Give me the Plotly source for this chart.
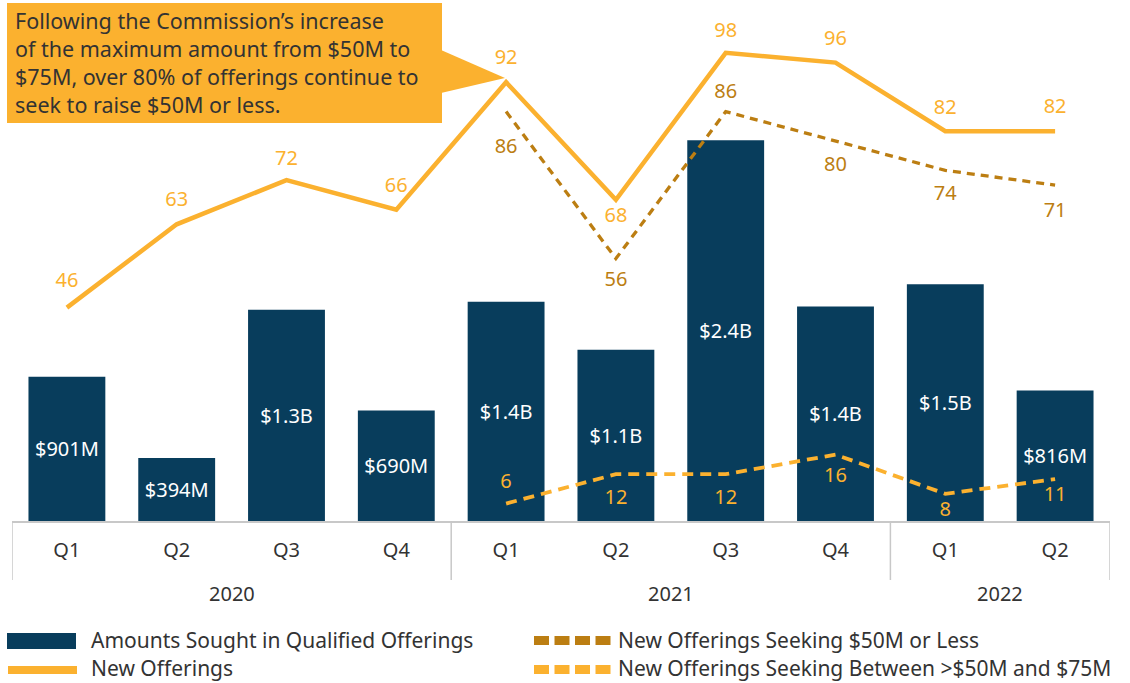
import plotly.graph_objects as go

years = ["2020"] * 4 + ["2021"] * 4 + ["2022"] * 2
quarters = ["Q1", "Q2", "Q3", "Q4", "Q1", "Q2", "Q3", "Q4", "Q1", "Q2"]

amounts_m = [901, 394, 1320, 690, 1370, 1070, 2380, 1340, 1480, 816]
amount_labels = ["$901M", "$394M", "$1.3B", "$690M", "$1.4B", "$1.1B",
                 "$2.4B", "$1.4B", "$1.5B", "$816M"]

new_offerings = [46, 63, 72, 66, 92, 68, 98, 96, 82, 82]
seek_50_or_less = [None, None, None, None, 86, 56, 86, 80, 74, 71]
seek_50_to_75 = [None, None, None, None, 6, 12, 12, 16, 8, 11]

series_names = ["Amounts Sought in Qualified Offerings", "New Offerings",
                "New Offerings Seeking $50M or Less",
                "New Offerings Seeking Between >$50M and $75M"]

NAVY = "#083D5C"
ORANGE = "#FBB12F"
GOLD = "#BC7E12"
TEXT = "#333333"
GRID = "#C8C8C8"
FONT = "Noto Sans"

cats = [f"{y} {q}" for y, q in zip(years, quarters)]

# label placement (style): which labels sit below their point, and the
# invisible-marker size that sets each label's distance from the line
new_below, new_pad = {5}, [24, 20, 14, 18, 20, 10, 16, 18, 18, 20]
le50_below, le50_pad = {4, 5, 7, 8, 9}, [0, 0, 0, 0, 40, 18, 12, 22, 22, 26]
mid_below, mid_pad = {5, 6, 7, 8, 9}, [0, 0, 0, 0, 16, 22, 22, 18, 10, 10]

fig = go.Figure()

fig.add_trace(go.Bar(
    x=cats, y=amounts_m, name=series_names[0],
    marker=dict(color=NAVY, line=dict(width=0)),
    width=0.7,
    text=amount_labels, textposition="inside", insidetextanchor="middle",
    textfont=dict(color="white", size=20, family=FONT),
    textangle=0, constraintext="none",
    yaxis="y",
))

def pos(vals, below):
    return ["bottom center" if i in below else "top center" for i in range(len(vals))]

def labels(vals):
    return [None if v is None else str(v) for v in vals]

def ghost(sizes):
    return dict(size=sizes, color="rgba(0,0,0,0)", opacity=0,
                line=dict(width=0, color="rgba(0,0,0,0)"))

fig.add_trace(go.Scatter(
    x=cats, y=seek_50_or_less, name=series_names[2],
    mode="lines+markers+text",
    line=dict(color=GOLD, width=3.3, dash="8px,6px"),
    marker=ghost(le50_pad),
    text=labels(seek_50_or_less), textposition=pos(seek_50_or_less, le50_below),
    textfont=dict(color=GOLD, size=20, family=FONT),
    yaxis="y2", cliponaxis=False,
))

fig.add_trace(go.Scatter(
    x=cats, y=new_offerings, name=series_names[1],
    mode="lines+markers+text",
    line=dict(color=ORANGE, width=4.5),
    marker=ghost(new_pad),
    text=labels(new_offerings), textposition=pos(new_offerings, new_below),
    textfont=dict(color=ORANGE, size=20, family=FONT),
    yaxis="y2", cliponaxis=False,
))

fig.add_trace(go.Scatter(
    x=cats, y=seek_50_to_75, name=series_names[3],
    mode="lines+markers+text",
    line=dict(color=ORANGE, width=3.8, dash="11px,7px"),
    marker=ghost(mid_pad),
    text=labels(seek_50_to_75), textposition=pos(seek_50_to_75, mid_below),
    textfont=dict(color=ORANGE, size=20, family=FONT),
    yaxis="y2", cliponaxis=False,
))

# plot area in pixels: x 12..1110, y 10..521
L, R, T, B = 12, 1110, 10, 521
W, H = R - L, B - T
ZERO2, SCALE2 = 533, 4.9   # pixel row of 0 on the count axis, px per offering

def px(xp):
    return (xp - L) / W

def py(yp):
    return (B - yp) / H

def prect(x0, x1, y0, y1, color):
    return dict(type="rect", xref="paper", yref="paper",
                x0=px(x0), x1=px(x1), y0=py(y1), y1=py(y0),
                fillcolor=color, line=dict(width=0), layer="above")

# callout box with pointer
shapes = [
    prect(7, 442, 3, 123, ORANGE),
    dict(type="path", xref="paper", yref="paper",
         path=f"M {px(441)} {py(50)} L {px(505)} {py(78)} L {px(441)} {py(93)} Z",
         fillcolor=ORANGE, line=dict(width=0), layer="above"),
]

annotations = [dict(
    xref="paper", yref="paper", x=px(13), y=py(4),
    xanchor="left", yanchor="top", align="left", showarrow=False,
    text="Following the Commission’s increase<br>of the maximum amount from $50M to"
         "<br>$75M, over 80% of offerings continue to<br>seek to raise $50M or less.",
    font=dict(size=21.5, color=TEXT, family=FONT))]

# year-group dividers and labels
groups = []
for i, yv in enumerate(years):
    if not groups or groups[-1][0] != yv:
        groups.append([yv, i, i])
    else:
        groups[-1][2] = i

edges = sorted({g[1] - 0.5 for g in groups} | {g[2] + 0.5 for g in groups})
for e in edges:
    shapes.append(dict(type="line", xref="x", yref="paper", x0=e, x1=e,
                       y0=0, y1=py(580), line=dict(color=GRID, width=1.5)))
for yv, a, b in groups:
    annotations.append(dict(xref="x", yref="paper", x=(a + b) / 2, y=py(593),
                            text=yv, showarrow=False, yanchor="middle",
                            font=dict(size=20, color=TEXT, family=FONT)))

# legend (drawn to match the reference swatches)
shapes.append(prect(7, 76, 633, 649, NAVY))
shapes.append(prect(8, 77, 666, 674, ORANGE))
for k in range(4):
    x0 = 534 + k * 20.5
    shapes.append(prect(x0, x0 + 15, 636, 645, GOLD))
    shapes.append(prect(x0, x0 + 15, 665, 674, ORANGE))
legend_items = [(series_names[0], 89, 640), (series_names[1], 89, 668),
                (series_names[2], 616, 640), (series_names[3], 616, 668)]
for name, lx, ly in legend_items:
    annotations.append(dict(xref="paper", yref="paper", x=px(lx), y=py(ly),
                            xanchor="left", yanchor="middle", showarrow=False,
                            text=name, font=dict(size=21, color=TEXT, family=FONT)))

fig.update_layout(
    width=1130, height=683,
    margin=dict(l=L, r=1130 - R, t=T, b=683 - B, autoexpand=False),
    paper_bgcolor="white", plot_bgcolor="white",
    showlegend=False,
    xaxis=dict(type="category", categoryorder="array", categoryarray=cats,
               tickvals=cats, ticktext=quarters,
               range=[-0.5, len(cats) - 0.5],
               showline=True, linecolor=GRID, linewidth=1.5,
               ticks="outside", ticklen=10, tickcolor="rgba(0,0,0,0)",
               showgrid=False, zeroline=False,
               tickfont=dict(size=20, color=TEXT, family=FONT)),
    yaxis=dict(range=[0, H / 0.16], visible=False, showgrid=False),
    yaxis2=dict(range=[(ZERO2 - B) / SCALE2, (ZERO2 - T) / SCALE2], overlaying="y",
                visible=False, showgrid=False),
    shapes=shapes, annotations=annotations,
    font=dict(family=FONT, color=TEXT),
)

fig.write_html("out.html", config={"displayModeBar": False},
               post_script="document.body.style.margin='0px';")
